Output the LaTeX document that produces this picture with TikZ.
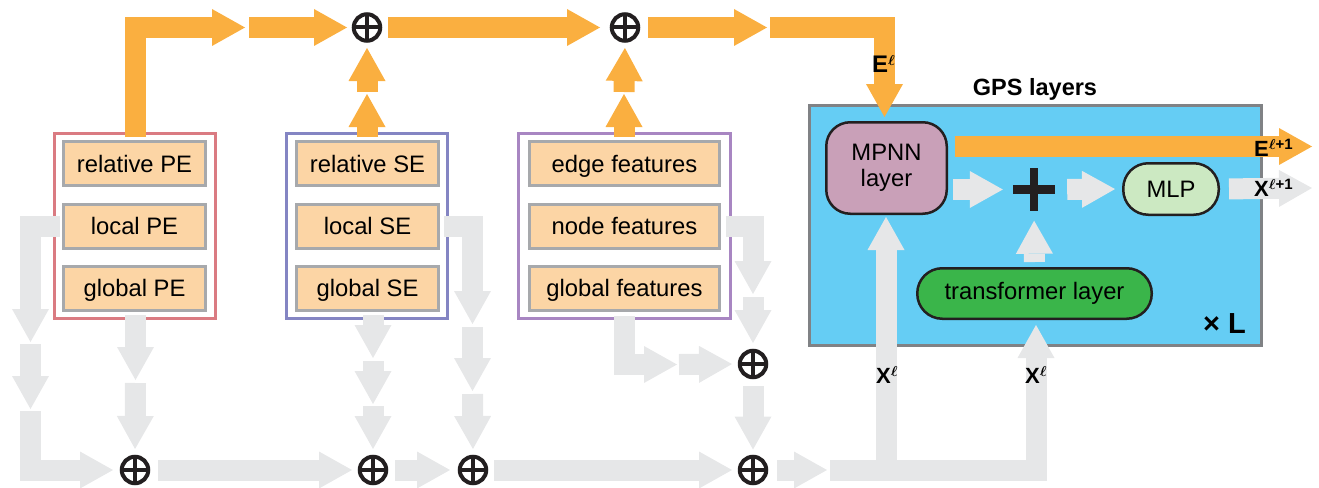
\documentclass[tikz,border=0pt]{standalone}
\usepackage{amsmath}
\usepackage{fontspec}
\setmainfont{Liberation Sans}
\usetikzlibrary{arrows.meta,calc}

\definecolor{flow}{HTML}{FAAF40}
\definecolor{feed}{HTML}{E6E7E8}
\definecolor{cell}{HTML}{FCD5A5}
\definecolor{cellrule}{HTML}{A7A9AC}
\definecolor{peframe}{HTML}{DA7B82}
\definecolor{seframe}{HTML}{8485C3}
\definecolor{ftframe}{HTML}{A886C2}
\definecolor{gpsfill}{HTML}{65CDF4}
\definecolor{gpsrule}{HTML}{808285}
\definecolor{mpnnfill}{HTML}{C9A0B8}
\definecolor{mlpfill}{HTML}{CCE9C2}
\definecolor{tffill}{HTML}{3AB54A}
\definecolor{ink}{HTML}{231F20}

% superscript layer index used in the stream labels
\newcommand{\lidx}[1]{\raisebox{6.5pt}{\fontsize{15}{15}\selectfont$\boldsymbol{\ell}$#1}}

\begin{document}
\begin{tikzpicture}[x=1pt, y=-1pt,
  font=\fontsize{23.8}{26}\selectfont,
  cellbox/.style={draw=cellrule, fill=cell, line width=3pt, minimum height=44pt,
    inner sep=0pt, text height=17pt, text depth=0pt},
  group/.style={draw=#1, line width=3.5pt, inner sep=0pt},
  layerbox/.style={draw=ink, line width=2.5pt, inner sep=0pt},
  sumnode/.style={circle, draw=ink, line width=4pt, minimum size=26.5pt, inner sep=0pt,
    path picture={\draw[ink, line width=4pt]
      (path picture bounding box.north) -- (path picture bounding box.south)
      (path picture bounding box.west) -- (path picture bounding box.east);}},
  fat/.style={line width=21pt, line join=miter},
  flowarrow/.style={fat, draw=flow, -{Triangle[length=33pt, width=37pt, line width=0pt, fill=flow]}},
  feedarrow/.style={fat, draw=feed, -{Triangle[length=33pt, width=37pt, line width=0pt, fill=feed]}},
  tag/.style={font=\bfseries\fontsize{22}{24}\selectfont, inner sep=0pt}
]
\useasboundingbox (0,0) rectangle (1319,487);

% ---------- input groups ----------
\node[group=peframe, minimum width=161pt, minimum height=185pt] (pe) at (135,226) {};
\node[group=seframe, minimum width=161pt, minimum height=185pt] (se) at (367,226) {};
\node[group=ftframe, minimum width=212pt, minimum height=185pt] (ft) at (624.5,226) {};

\node[cellbox, minimum width=142pt] (rpe) at (134.5,163.5) {relative PE};
\node[cellbox, minimum width=142pt] (lpe) at (134.5,226) {local PE};
\node[cellbox, minimum width=142pt] (gpe) at (134.5,288) {global PE};

\node[cellbox, minimum width=142pt] (rse) at (367.5,163.5) {relative SE};
\node[cellbox, minimum width=142pt] (lse) at (367.5,226) {local SE};
\node[cellbox, minimum width=142pt] (gse) at (367.5,288) {global SE};

\node[cellbox, minimum width=190pt] (ef) at (624.5,163.5) {edge features};
\node[cellbox, minimum width=190pt] (nf) at (624.5,226) {node features};
\node[cellbox, minimum width=190pt] (gf) at (624.5,288) {global features};

% ---------- summation points ----------
\node[sumnode] (t1) at (367,27.5) {};
\node[sumnode] (t2) at (625,27.5) {};
\node[sumnode] (b1) at (135,470) {};
\node[sumnode] (b2) at (373,470) {};
\node[sumnode] (b3) at (473,470) {};
\node[sumnode] (b4) at (753,470) {};
\node[sumnode] (b5) at (753,364) {};

% ---------- GPS block ----------
\node[draw=gpsrule, fill=gpsfill, line width=3pt, minimum width=452pt,
  minimum height=240pt, inner sep=0pt] (gps) at (1035.5,225.5) {};
\node[font=\bfseries\fontsize{23.5}{26}\selectfont, anchor=base, inner sep=0pt]
  (gpstitle) at (1035,95) {GPS layers};
\node[layerbox, fill=mpnnfill, rounded corners=24pt, minimum width=120.5pt,
  minimum height=91.5pt, align=center] (mpnn) at (886.5,168) {MPNN\\layer};
\node[layerbox, fill=mlpfill, rounded corners=25pt, minimum width=95.5pt,
  minimum height=51.5pt] (mlp) at (1171,189) {MLP};
\node[layerbox, fill=tffill, rounded corners=25pt, minimum width=234.5pt,
  minimum height=50.5pt] (tf) at (1034.5,293.5) {transformer layer};
\node[minimum size=42pt, inner sep=0pt] (plus) at (1034,189.5) {};
\draw[ink, line width=8.5pt] (plus.west) -- (plus.east) (plus.north) -- (plus.south);
\node[font=\bfseries\fontsize{29}{32}\selectfont, anchor=base east, inner sep=0pt]
  (reps) at (1246,333) {× L};

% ---------- relay points of the arrow chains ----------
\coordinate (peup)  at (135.5,137);
\coordinate (fa1)   at (245,27.5);
\coordinate (fa2)   at (249,27.5);
\coordinate (fa4)   at (767,27.5);
\coordinate (fa5)   at (770,27.5);
\coordinate (ein)   at (884.5,117);
\coordinate (se1)   at (367,137);
\coordinate (se2)   at (367,94);
\coordinate (se3)   at (367,92);
\coordinate (ef1)   at (624,137);
\coordinate (ef2)   at (624,94);
\coordinate (ef3)   at (624,92);
\coordinate (eo1)   at (955,146.5);
\coordinate (eo2)   at (1312,146.5);

\coordinate (pl1) at (30.5,342);
\coordinate (pl2) at (30.5,344);
\coordinate (pl3) at (30.5,409);
\coordinate (pl4) at (30.5,411);
\coordinate (pd1) at (135.5,315);
\coordinate (pd2) at (135.5,380);
\coordinate (pd3) at (135.5,383);
\coordinate (sd1) at (373,315);
\coordinate (sd2) at (373,358);
\coordinate (sd3) at (373,361);
\coordinate (sd4) at (373,404);
\coordinate (sd5) at (373,406);
\coordinate (sr1) at (472.5,324);
\coordinate (sr2) at (472.5,327);
\coordinate (sr3) at (472.5,391);
\coordinate (sr4) at (472.5,394);
\coordinate (nr1) at (753,294);
\coordinate (nr2) at (753,297);
\coordinate (gd1) at (624.5,316);
\coordinate (gd2) at (677,364.5);
\coordinate (gd3) at (679,364.5);
\coordinate (xo1) at (827,470);
\coordinate (xo2) at (830,470);
\coordinate (xb)  at (886,470);
\coordinate (xm)  at (886,217);
\coordinate (xt)  at (1036,325);
\coordinate (mo)  at (1312,188);

% ---------- edge stream (orange) ----------
\draw[flowarrow] (peup) |- (fa1);
\draw[flowarrow, shorten >=4.75pt] (fa2) -- (t1.west);
\draw[flowarrow, shorten <=5.75pt, shorten >=9.75pt] (t1.east) -- (t2.west);
\draw[flowarrow, shorten <=7.75pt] (t2.east) -- (fa4);
\draw[flowarrow] (fa5) -| (ein);
\draw[flowarrow] (se1) -- (se2);
\draw[flowarrow, shorten >=5.25pt] (se3) -- (t1.south);
\draw[flowarrow] (ef1) -- (ef2);
\draw[flowarrow, shorten >=5.25pt] (ef3) -- (t2.south);
\draw[flowarrow] (eo1) -- (eo2);

% ---------- node stream (grey) ----------
\draw[feedarrow] ($(lpe.west)+(-2,0)$) -| (pl1);
\draw[feedarrow] (pl2) -- (pl3);
\draw[feedarrow, shorten >=6.75pt] (pl4) |- (b1.west);
\draw[feedarrow] (pd1) -- (pd2);
\draw[feedarrow, shorten >=5.75pt] (pd3) -- (b1.north);
\draw[feedarrow, shorten <=7.75pt, shorten >=5.75pt] (b1.east) -- (b2.west);
\draw[feedarrow] (sd1) -- (sd2);
\draw[feedarrow] (sd3) -- (sd4);
\draw[feedarrow, shorten >=5.75pt] (sd5) -- (b2.north);
\draw[feedarrow, shorten <=6.75pt, shorten >=7.75pt] (b2.east) -- (b3.west);
\draw[feedarrow] ($(lse.east)+(4,0)$) -| (sr1);
\draw[feedarrow] (sr2) -- (sr3);
\draw[feedarrow, shorten >=5.75pt] (sr4) -- (b3.north);
\draw[feedarrow, shorten <=5.75pt, shorten >=5.75pt] (b3.east) -- (b4.west);
\draw[feedarrow] ($(nf.east)+(5,0)$) -| (nr1);
\draw[feedarrow, shorten >=5.75pt] (nr2) -- (b5.north);
\draw[feedarrow] (gd1) |- (gd2);
\draw[feedarrow, shorten >=5.75pt] (gd3) -- (b5.west);
\draw[feedarrow, shorten <=6.75pt, shorten >=5.25pt] (b5.south) -- (b4.north);
\draw[feedarrow, shorten <=8.75pt] (b4.east) -- (xo1);
\draw[feedarrow] (xo2) -| (xt);
\draw[feedarrow] (xb) -- (xm);
\draw[feedarrow, shorten <=5.25pt, shorten >=10pt] (mpnn.east |- plus) -- (plus.west);
\draw[feedarrow, shorten <=12pt, shorten >=7pt] (plus.east) -- (mlp.west);
\draw[feedarrow, shorten <=9pt] (mlp.east) -- (mo);
\draw[feedarrow, shorten <=5pt, shorten >=10pt] (tf.north) -- (plus.south);

% ---------- stream labels ----------
\node[tag, font=\bfseries\fontsize{24}{26}\selectfont, anchor=base west]
  (el) at (872,72) {E\lidx{}};
\node[tag, anchor=base west] (el1) at (1254,156) {E\lidx{+1}};
\node[tag, anchor=base west] (xl1) at (1254,196) {X\lidx{+1}};
\node[tag, anchor=base west] (xla) at (876,383)  {X\lidx{}};
\node[tag, anchor=base west] (xlb) at (1025,383) {X\lidx{}};
\end{tikzpicture}
\end{document}
